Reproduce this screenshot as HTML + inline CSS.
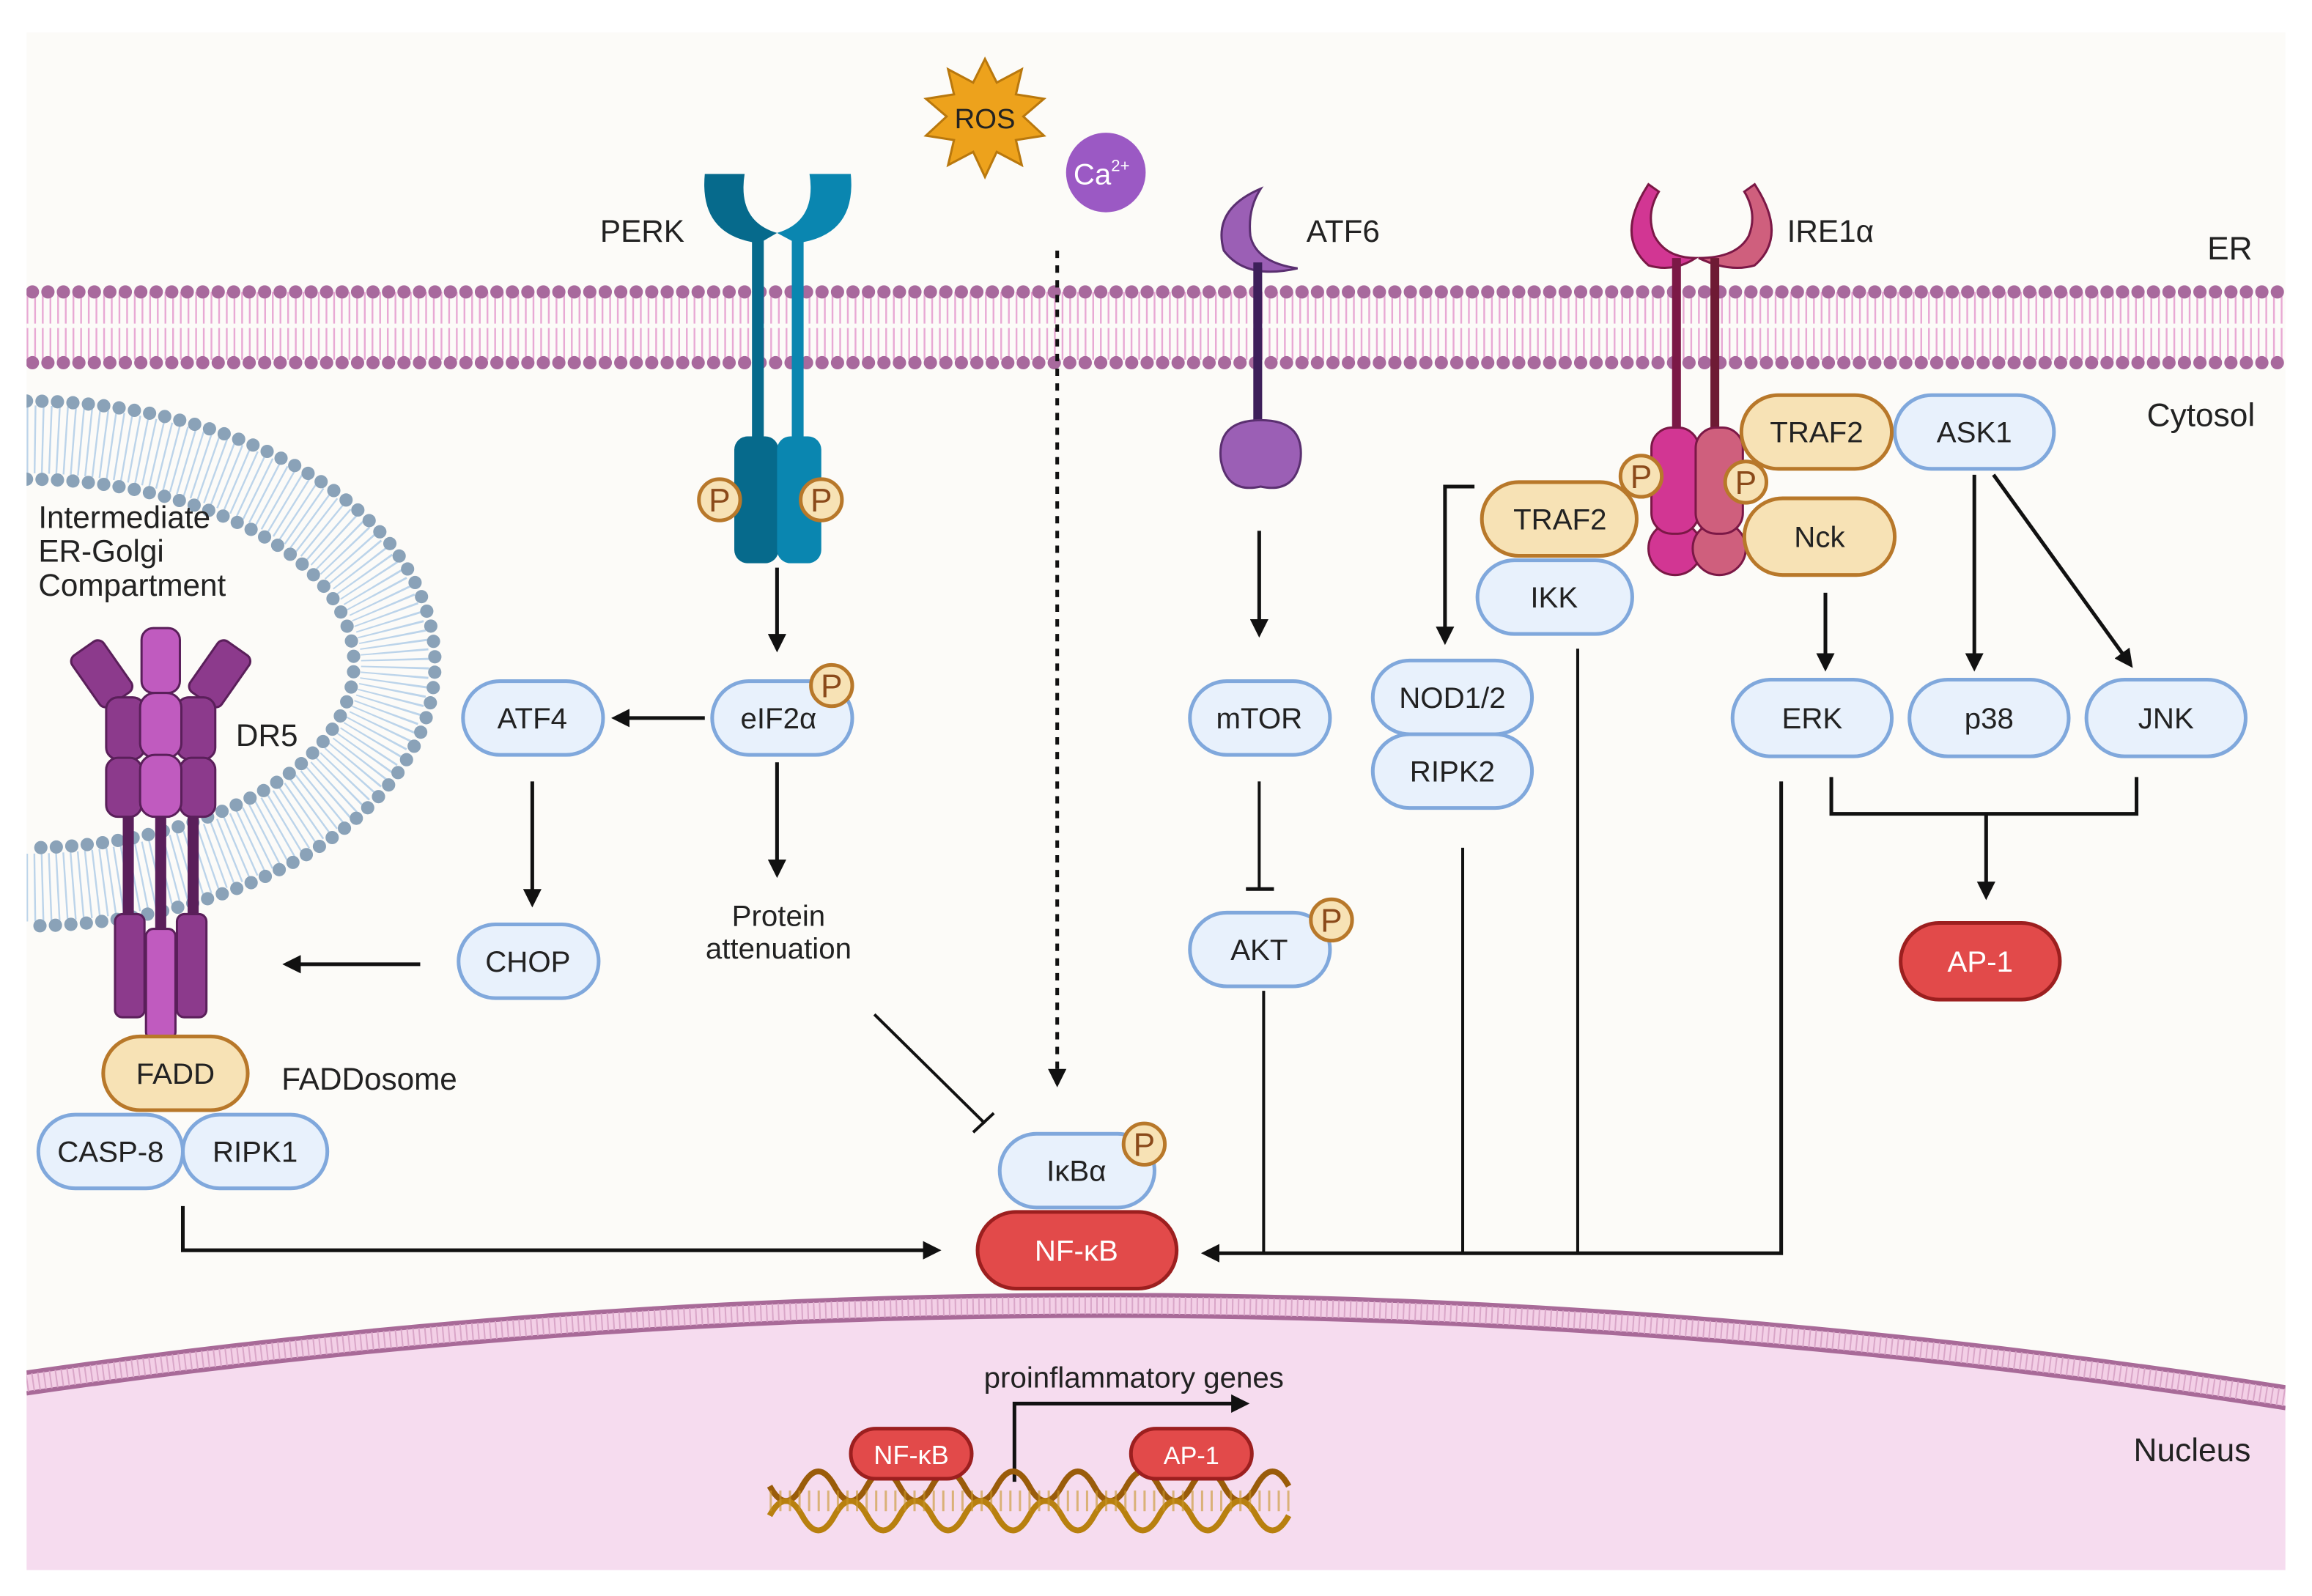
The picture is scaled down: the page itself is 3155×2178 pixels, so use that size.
<!DOCTYPE html>
<html><head><meta charset="utf-8"><style>
html,body{margin:0;padding:0;background:#fff}
svg{display:block}
text{font-family:"Liberation Sans",sans-serif;fill:#222}
</style></head><body>
<svg width="3155" height="2178" viewBox="0 0 1568 1082.5" preserveAspectRatio="none" xmlns="http://www.w3.org/2000/svg">
<defs>
<marker id="ah" viewBox="0 0 10 10" refX="8" refY="5" markerWidth="5" markerHeight="5" orient="auto"><path d="M0,0 L10,5 L0,10 z" fill="#111"/></marker>
<clipPath id="panel"><rect x="18" y="22" width="1532" height="1043"/></clipPath>
</defs>
<rect x="0" y="0" width="1568" height="1083" fill="#fff"/>
<rect x="18" y="22" width="1532" height="1043" fill="#fcfbf8"/>
<g clip-path="url(#panel)">
<!-- nucleus -->
<path d="M18,938 Q780,828 1550,948 L1550,1065 L18,1065 Z" fill="#f6dcef"/>
<path d="M18,938 Q780,828 1550,948" fill="none" stroke="#f3cfe6" stroke-width="16"/>
<path d="M18,931 Q780,821 1550,941" fill="none" stroke="#a86a98" stroke-width="3"/>
<path d="M18,945 Q780,835 1550,955" fill="none" stroke="#a86a98" stroke-width="3"/>
<path d="M18,938 Q780,828 1550,948" fill="none" stroke="#d9a6c8" stroke-width="12" stroke-dasharray="1 3"/>
<!-- ER membrane -->
<line x1="18" y1="221" x2="1550" y2="221" stroke="#e8a9d4" stroke-width="46" stroke-dasharray="1.2 4"/>
<line x1="18" y1="221" x2="1550" y2="221" stroke="#fcfbf8" stroke-width="3"/>
<line x1="22" y1="198" x2="1550" y2="198" stroke="#a8699d" stroke-width="9" stroke-dasharray="0 10.5" stroke-linecap="round"/>
<line x1="22" y1="246" x2="1550" y2="246" stroke="#a8699d" stroke-width="9" stroke-dasharray="0 10.5" stroke-linecap="round"/>
<!-- Golgi compartment -->
<path d="M18,298 A250,152 0 0 1 18,602" fill="none" stroke="#bcd4ea" stroke-width="46" stroke-dasharray="1.2 4"/>
<path d="M18,272 A277,178 0 0 1 18,628" fill="none" stroke="#8aa2b8" stroke-width="9" stroke-dasharray="0 10.5" stroke-linecap="round"/>
<path d="M18,325 A222,125 0 0 1 18,575" fill="none" stroke="#8aa2b8" stroke-width="9" stroke-dasharray="0 10.5" stroke-linecap="round"/>
</g>
<text x="26" y="358" font-size="21">Intermediate</text>
<text x="26" y="381" font-size="21">ER-Golgi</text>
<text x="26" y="404" font-size="21">Compartment</text>
<!-- DR5 -->
<g stroke="#5a1f5a" stroke-width="1.5">
<rect x="84" y="520" width="6" height="110" fill="#5a1f5a"/>
<rect x="128" y="520" width="6" height="110" fill="#5a1f5a"/>
<rect x="106" y="520" width="6" height="120" fill="#5a1f5a"/>
<rect x="78" y="620" width="20" height="70" rx="5" fill="#8c3a8c"/>
<rect x="120" y="620" width="20" height="70" rx="5" fill="#8c3a8c"/>
<rect x="99" y="630" width="20" height="75" rx="5" fill="#c05bbf"/>
<rect x="56" y="436" width="26" height="42" rx="5" fill="#8c3a8c" transform="rotate(-35 69 457)"/>
<rect x="136" y="436" width="26" height="42" rx="5" fill="#8c3a8c" transform="rotate(35 149 457)"/>
<rect x="72" y="473" width="26" height="42" rx="8" fill="#8c3a8c"/>
<rect x="120" y="473" width="26" height="42" rx="8" fill="#8c3a8c"/>
<rect x="72" y="514" width="24" height="40" rx="8" fill="#8c3a8c"/>
<rect x="122" y="514" width="24" height="40" rx="8" fill="#8c3a8c"/>
<rect x="96" y="426" width="26" height="44" rx="8" fill="#c05bbf"/>
<rect x="95" y="470" width="28" height="44" rx="10" fill="#c05bbf"/>
<rect x="95" y="512" width="28" height="42" rx="10" fill="#c05bbf"/>
</g>
<text x="160" y="506" font-size="21">DR5</text>
<!-- PERK -->
<path d="M478,118 Q474,160 515,165 Q527,158 527,158 Q500,150 505,118 Z" fill="#066a8c"/>
<path d="M577,118 Q581,160 540,165 Q527,158 527,158 Q554,150 549,118 Z" fill="#0a86b0"/>
<rect x="510" y="160" width="8" height="140" fill="#066a8c"/>
<rect x="537" y="160" width="8" height="140" fill="#0a86b0"/>
<rect x="498" y="296" width="30" height="86" rx="9" fill="#066a8c"/>
<rect x="527" y="296" width="30" height="86" rx="9" fill="#0a86b0"/>
<text x="407" y="164" font-size="21">PERK</text>
<!-- ROS, Ca -->
<polygon points="668,40 676,56 693,47 689,64 708,67 694,79 708,92 689,95 693,112 676,103 668,120 660,103 643,112 647,95 628,92 642,79 628,67 647,64 643,47 660,56" fill="#eda21c" stroke="#b9780d" stroke-width="1.5"/>
<text x="668" y="87" font-size="19" text-anchor="middle">ROS</text>
<circle cx="750" cy="117" r="27" fill="#9b59c4"/>
<text x="728" y="125" font-size="20" style="fill:#fff">Ca<tspan font-size="11" dy="-9" style="fill:#fff">2+</tspan></text>
<!-- ATF6 -->
<path d="M855,128 Q822,142 830,170 Q845,190 880,182 Q852,178 848,160 Q846,142 855,128 Z" fill="#9b5fb5" stroke="#5a2f70" stroke-width="1.5"/>
<rect x="850" y="178" width="6" height="115" fill="#3d1f5a"/>
<path d="M855,285 Q885,285 882,312 Q878,335 855,330 Q832,335 828,312 Q825,285 855,285 Z" fill="#9b5fb5" stroke="#5a2f70" stroke-width="1.5"/>
<text x="886" y="164" font-size="21">ATF6</text>
<!-- IRE1 -->
<path d="M1118,125 Q1095,160 1118,180 Q1135,185 1150,175 Q1130,175 1122,160 Q1116,145 1125,130 Z" fill="#d23693" stroke="#7b1846" stroke-width="1.5"/>
<path d="M1190,125 Q1213,160 1190,180 Q1173,185 1152,175 Q1178,175 1186,160 Q1192,145 1183,130 Z" fill="#cf5f7d" stroke="#7b1846" stroke-width="1.5"/>
<rect x="1134" y="175" width="6" height="120" fill="#7b1846"/>
<rect x="1160" y="175" width="6" height="120" fill="#6e1a34"/>
<circle cx="1136" cy="372" r="18" fill="#d23693" stroke="#7b1846" stroke-width="1.5"/>
<circle cx="1166" cy="372" r="18" fill="#cf5f7d" stroke="#7b1846" stroke-width="1.5"/>
<rect x="1120" y="290" width="32" height="72" rx="14" fill="#d23693" stroke="#7b1846" stroke-width="1.5"/>
<rect x="1150" y="290" width="32" height="72" rx="14" fill="#cf5f7d" stroke="#7b1846" stroke-width="1.5"/>
<text x="1212" y="164" font-size="21">IRE1α</text>
<text x="1497" y="176" font-size="22">ER</text>
<text x="1456" y="289" font-size="22">Cytosol</text>
<text x="1447" y="991" font-size="22">Nucleus</text>
<!-- connectors -->
<g stroke="#111" stroke-width="2.5" fill="none">
<line x1="527" y1="385" x2="527" y2="440" marker-end="url(#ah)"/>
<line x1="478" y1="487" x2="417" y2="487" marker-end="url(#ah)"/>
<line x1="361" y1="530" x2="361" y2="613" marker-end="url(#ah)"/>
<line x1="527" y1="517" x2="527" y2="593" marker-end="url(#ah)"/>
<line x1="285" y1="654" x2="194" y2="654" marker-end="url(#ah)"/>
<line x1="717" y1="170" x2="717" y2="735" stroke-dasharray="5 5" marker-end="url(#ah)"/>
<line x1="593" y1="688" x2="668" y2="762" stroke-width="2"/>
<line x1="660" y1="768" x2="674" y2="755" stroke-width="2"/>
<polyline points="124,818 124,848 636,848" marker-end="url(#ah)"/>
<line x1="857" y1="672" x2="857" y2="850" stroke-width="2"/>
<line x1="992" y1="575" x2="992" y2="850" stroke-width="2"/>
<line x1="1070" y1="440" x2="1070" y2="850" stroke-width="2"/>
<polyline points="1208,530 1208,850 817,850" marker-end="url(#ah)"/>
<line x1="854" y1="360" x2="854" y2="430" marker-end="url(#ah)"/>
<line x1="854" y1="530" x2="854" y2="602" stroke-width="2"/>
<line x1="845" y1="603" x2="864" y2="603"/>
<polyline points="1000,330 980,330 980,435" marker-end="url(#ah)"/>
<line x1="1238" y1="402" x2="1238" y2="453" marker-end="url(#ah)"/>
<line x1="1339" y1="322" x2="1339" y2="453" marker-end="url(#ah)"/>
<line x1="1352" y1="322" x2="1445" y2="451" marker-end="url(#ah)"/>
<polyline points="1242,527 1242,552 1449,552 1449,527"/>
<line x1="1347" y1="552" x2="1347" y2="608" marker-end="url(#ah)"/>
<polyline points="688,1005 688,952 845,952" marker-end="url(#ah)"/>
</g>
<!-- DNA -->
<g fill="none" stroke-width="4">
<path d="M522,1008 q11,20 22,0 q11,-20 22,0 q11,20 22,0 q11,-20 22,0 q11,20 22,0 q11,-20 22,0 q11,20 22,0 q11,-20 22,0 q11,20 22,0 q11,-20 22,0 q11,20 22,0 q11,-20 22,0 q11,20 22,0 q11,-20 22,0 q11,20 22,0 q11,-20 22,0" stroke="#9a5c0a"/>
<path d="M522,1028 q11,-20 22,0 q11,20 22,0 q11,-20 22,0 q11,20 22,0 q11,-20 22,0 q11,20 22,0 q11,-20 22,0 q11,20 22,0 q11,-20 22,0 q11,20 22,0 q11,-20 22,0 q11,20 22,0 q11,-20 22,0 q11,20 22,0 q11,-20 22,0 q11,20 22,0" stroke="#b8800f"/>
</g>
<line x1="522" y1="1018" x2="875" y2="1018" stroke="#c9962a" stroke-width="14" stroke-dasharray="1.5 5" opacity="0.6"/>
<!-- pills -->
<g stroke-width="2.5">
<g fill="#e8f1fc" stroke="#80a8dc">
<rect x="314" y="462" width="95" height="50" rx="25"/>
<rect x="483" y="462" width="95" height="50" rx="25"/>
<rect x="311" y="627" width="95" height="50" rx="25"/>
<rect x="807" y="462" width="95" height="50" rx="25"/>
<rect x="807" y="619" width="95" height="50" rx="25"/>
<rect x="931" y="498" width="108" height="50" rx="25"/>
<rect x="931" y="448" width="108" height="50" rx="25"/>
<rect x="1002" y="380" width="105" height="50" rx="25"/>
<rect x="1285" y="268" width="108" height="50" rx="25"/>
<rect x="1175" y="461" width="108" height="52" rx="26"/>
<rect x="1295" y="461" width="108" height="52" rx="26"/>
<rect x="1415" y="461" width="108" height="52" rx="26"/>
<rect x="678" y="769" width="105" height="50" rx="25"/>
<rect x="26" y="756" width="98" height="50" rx="25"/>
<rect x="124" y="756" width="98" height="50" rx="25"/>
</g>
<g fill="#f7e2b5" stroke="#b8782a">
<rect x="1005" y="327" width="105" height="50" rx="25"/>
<rect x="1181" y="268" width="102" height="50" rx="25"/>
<rect x="1183" y="338" width="102" height="52" rx="26"/>
<rect x="70" y="703" width="98" height="50" rx="25"/>
</g>
<g fill="#e24a4a" stroke="#9c1f1f">
<rect x="1289" y="626" width="108" height="52" rx="26"/>
<rect x="663" y="822" width="135" height="52" rx="26"/>
<rect x="577" y="969" width="82" height="34" rx="17"/>
<rect x="767" y="969" width="82" height="34" rx="17"/>
</g>
<g fill="#f7e2b5" stroke="#b8782a" stroke-width="2.5">
<circle cx="488" cy="339" r="14"/><circle cx="557" cy="339" r="14"/>
<circle cx="564" cy="465" r="14"/><circle cx="903" cy="624" r="14"/>
<circle cx="1113" cy="323" r="14"/><circle cx="1184" cy="327" r="14"/>
<circle cx="776" cy="776" r="14"/>
</g>
</g>
<g font-size="22" text-anchor="middle">
<text x="488" y="347" style="fill:#8b4a1a">P</text><text x="557" y="347" style="fill:#8b4a1a">P</text>
<text x="564" y="473" style="fill:#8b4a1a">P</text><text x="903" y="632" style="fill:#8b4a1a">P</text>
<text x="1113" y="331" style="fill:#8b4a1a">P</text><text x="1184" y="335" style="fill:#8b4a1a">P</text>
<text x="776" y="784" style="fill:#8b4a1a">P</text>
</g>
<g font-size="20" text-anchor="middle">
<text x="361" y="494">ATF4</text>
<text x="528" y="494">eIF2α</text>
<text x="358" y="659">CHOP</text>
<text x="854" y="494">mTOR</text>
<text x="854" y="651">AKT</text>
<text x="985" y="480">NOD1/2</text>
<text x="985" y="530">RIPK2</text>
<text x="1054" y="412">IKK</text>
<text x="1058" y="359">TRAF2</text>
<text x="1232" y="300">TRAF2</text>
<text x="1339" y="300">ASK1</text>
<text x="1234" y="371">Nck</text>
<text x="1229" y="494">ERK</text>
<text x="1349" y="494">p38</text>
<text x="1469" y="494">JNK</text>
<text x="730" y="801">IκBα</text>
<text x="119" y="735">FADD</text>
<text x="75" y="788">CASP-8</text>
<text x="173" y="788">RIPK1</text>
<text x="1343" y="659" style="fill:#fff">AP-1</text>
<text x="730" y="855" style="fill:#fff">NF-κB</text>
<text x="618" y="993" font-size="18" style="fill:#fff">NF-κB</text>
<text x="808" y="993" font-size="17" style="fill:#fff">AP-1</text>
<text x="528" y="628">Protein</text>
<text x="528" y="650">attenuation</text>
<text x="769" y="941">proinflammatory genes</text>
</g>
<text x="191" y="739" font-size="21">FADDosome</text>
</svg>
</body></html>
